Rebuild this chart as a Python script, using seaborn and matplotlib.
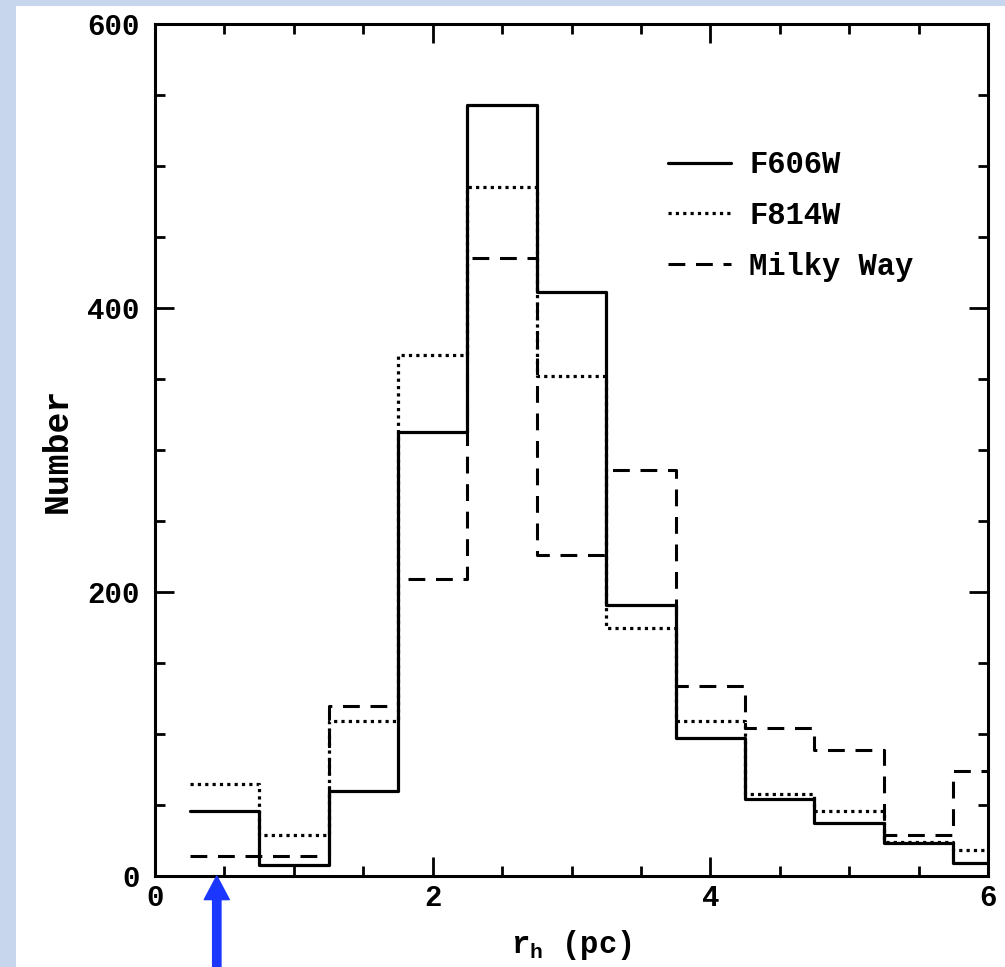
import numpy as np
import pandas as pd
import matplotlib
matplotlib.use("Agg")
import matplotlib.pyplot as plt
import seaborn as sns
from matplotlib.ticker import MultipleLocator
from matplotlib.patches import Rectangle

# ---- data (bin counts) ----
bin_edges = [0.25, 0.75, 1.25, 1.75, 2.25, 2.75, 3.25, 3.75, 4.25, 4.75, 5.25, 5.75, 6.25]
f606w = [46, 8, 60, 313, 543, 411, 191, 97, 54, 37, 23, 9]
f814w = [65, 29, 109, 367, 485, 352, 175, 109, 58, 46, 24, 18]
milky_way = [14, 14, 120, 209, 435, 226, 286, 134, 104, 89, 29, 74]
series_names = ["F606W", "F814W", "Milky Way"]
x_ticks = [0, 2, 4, 6]
y_ticks = [0, 200, 400, 600]
arrow_x = 0.445

sns.set_theme(style="ticks")
plt.rcParams["font.family"] = ["Liberation Mono", "DejaVu Sans"]
plt.rcParams["font.weight"] = "bold"
plt.rcParams["text.color"] = "black"
plt.rcParams["axes.labelcolor"] = "black"
plt.rcParams["xtick.labelcolor"] = "black"
plt.rcParams["ytick.labelcolor"] = "black"
plt.rcParams["mathtext.fontset"] = "custom"
plt.rcParams["mathtext.rm"] = "Liberation Mono:bold"
plt.rcParams["mathtext.it"] = "Liberation Mono:bold"

fig = plt.figure(figsize=(10.05, 9.67), dpi=100)
fig.patch.set_facecolor("#c7d6ec")
bg = fig.add_axes([16 / 1005, 0, 1, (967 - 6) / 967], zorder=-5)
bg.set_axis_off()
bg.add_patch(Rectangle((0, 0), 1, 1, transform=bg.transAxes, facecolor="white", edgecolor="none"))

ax = fig.add_axes([155 / 1005, (967 - 876) / 967, (988 - 155) / 1005, (876 - 24) / 967], zorder=1)
ax.set_facecolor("white")

centers = [(bin_edges[i] + bin_edges[i + 1]) / 2 for i in range(len(bin_edges) - 1)]
df = pd.DataFrame({
    "x": centers * 3,
    "count": f606w + f814w + milky_way,
    "series": sum([[n] * len(centers) for n in series_names], []),
})

styles = {
    "F606W": dict(ls="-", lw=2.3, z=4),
    "F814W": dict(ls=(0, (1.0, 1.3)), lw=2.3, z=3),
    "Milky Way": dict(ls=(0, (5.5, 3.5)), lw=2.2, z=2),
}
for name in series_names:
    st = styles[name]
    sns.histplot(data=df[df["series"] == name], x="x", weights="count", bins=bin_edges,
                 element="step", fill=False, color="black", linewidth=st["lw"],
                 linestyle=st["ls"], ax=ax, label=name, zorder=st["z"])

ax.set_xlim(0, 6)
ax.set_ylim(0, 600)
ax.set_xticks(x_ticks)
ax.set_yticks(y_ticks)
ax.xaxis.set_minor_locator(MultipleLocator(0.5))
ax.yaxis.set_minor_locator(MultipleLocator(50))
ax.tick_params(which="both", direction="in", top=True, right=True, width=2.0, color="black")
ax.tick_params(which="major", length=14, labelsize=21)
ax.tick_params(which="minor", length=7)
ax.tick_params(axis="x", which="major", pad=6)
ax.tick_params(axis="y", which="major", pad=11)
for lab in ax.get_xticklabels() + ax.get_yticklabels():
    lab.set_fontweight("bold")
for sp in ax.spines.values():
    sp.set_linewidth(2.2)
    sp.set_color("black")

ax.set_xlabel(r"r$_{\rm h}$ (pc)", fontsize=22, fontweight="bold", labelpad=11)
ax.set_ylabel("Number", fontsize=25, fontweight="bold", labelpad=10)

leg = ax.legend(loc="upper left", bbox_to_anchor=(0.583, 0.884), frameon=False,
                handlelength=2.05, labelspacing=0.68, handletextpad=0.6,
                prop={"weight": "bold", "size": 22})
for t in leg.get_texts():
    t.set_color("black")

ax.annotate("", xy=(arrow_x, 0), xycoords=("data", "axes fraction"),
            xytext=(arrow_x, -0.12), textcoords=("data", "axes fraction"),
            arrowprops=dict(width=6, headwidth=18, headlength=17, color="#1a36ff",
                            shrink=0), annotation_clip=False)

fig.savefig("out.png", dpi=100, facecolor=fig.get_facecolor())
